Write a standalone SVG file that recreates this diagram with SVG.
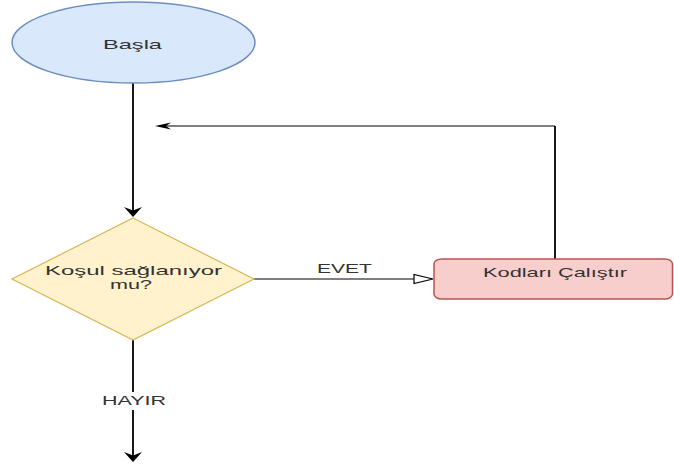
<svg xmlns="http://www.w3.org/2000/svg" width="674" height="464" viewBox="0 0 674 464">
<style>
.t{font-family:"Liberation Sans",Arial,sans-serif;font-size:13px;fill:#333}
.lv{stroke:#000;stroke-width:1.8;fill:none}
.lh{stroke:#000;stroke-width:1.2;fill:none}
</style>
<rect width="674" height="464" fill="#fff"/>
<g id="connectors">
<path class="lv" d="M133,83 L133,212"/>
<path d="M133,217 L124,207 L133,210.5 L142,207 Z" fill="#000"/>
<path class="lh" d="M254,279 L414,279"/>
<path d="M433,279 L414,274.5 L414,283.5 Z" fill="#fff" stroke="#000" stroke-width="1.2"/>
<text class="t" x="317" y="273" textLength="55" lengthAdjust="spacingAndGlyphs">EVET</text>
<path class="lv" d="M555,259 L555,126"/>
<path class="lh" d="M555,126 L166,126"/>
<path d="M155,126 L171,122.5 L166,126 L171,129.5 Z" fill="#000"/>
<path class="lv" d="M133,340 L133,392"/>
<path class="lv" d="M133,410 L133,456"/>
<path d="M133,462 L124,452 L133,455.5 L142,452 Z" fill="#000"/>
<text class="t" x="102" y="405" textLength="64" lengthAdjust="spacingAndGlyphs">HAYIR</text>
</g>
<g id="start">
<ellipse cx="133.5" cy="42.5" rx="121.5" ry="40.5" fill="#dae8fc" stroke="#6c8ebf" stroke-width="1.5"/>
<text class="t" x="103" y="49" textLength="59" lengthAdjust="spacingAndGlyphs">Başla</text>
</g>
<g id="decision">
<path d="M133,218 L254,279 L133,340 L12,279 Z" fill="#fff2cc" stroke="#d6b656" stroke-width="1.2"/>
<text class="t" x="45" y="275" textLength="177" lengthAdjust="spacingAndGlyphs">Koşul sağlanıyor</text>
<text class="t" x="110" y="289" textLength="42" lengthAdjust="spacingAndGlyphs">mu?</text>
</g>
<g id="process">
<rect x="434" y="259" width="238.5" height="40" rx="8" ry="5" fill="#f8cecc" stroke="#b85450" stroke-width="1.5"/>
<text class="t" x="483" y="277" textLength="144" lengthAdjust="spacingAndGlyphs">Kodları Çalıştır</text>
</g>
</svg>
